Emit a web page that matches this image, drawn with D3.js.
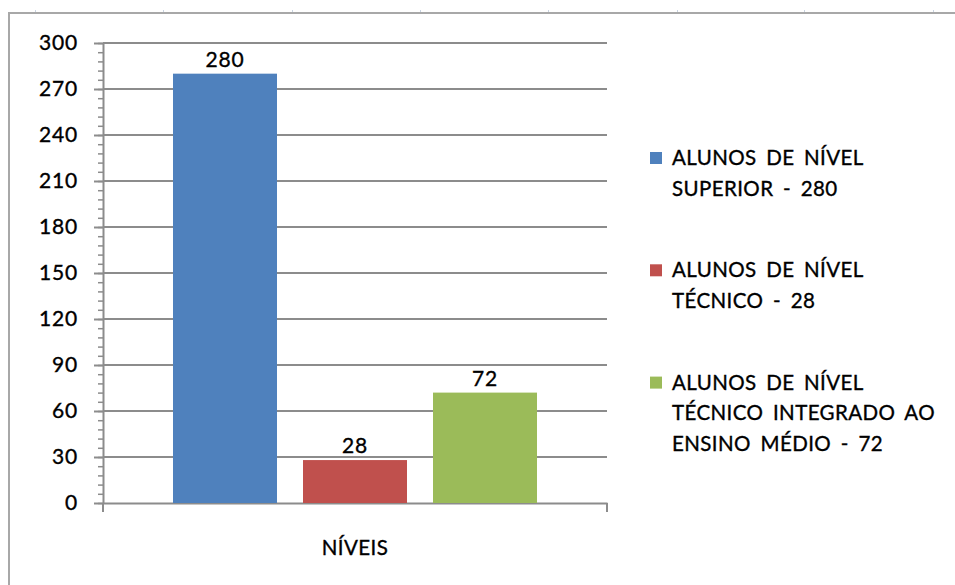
<!DOCTYPE html>
<meta charset="utf-8">

<body style="margin:0; background:white">
  <svg width="955" height="585"></svg>

  <script src="https://cdnjs.cloudflare.com/ajax/libs/d3/7.8.5/d3.min.js"></script>

  <script>

    // data
    var categories = ['NÍVEIS']
    var seriesLabels = [
      ['ALUNOS DE NÍVEL', 'SUPERIOR - 280'],
      ['ALUNOS DE NÍVEL', 'TÉCNICO - 28'],
      ['ALUNOS DE NÍVEL', 'TÉCNICO INTEGRADO AO', 'ENSINO MÉDIO - 72']
    ]
    var seriesValues = [280, 28, 72]
    var yTicks = [0, 30, 60, 90, 120, 150, 180, 210, 240, 270, 300]

    var colors = ['#4F81BD', '#C0504D', '#9BBB59']
    var font = 'Lato, "Open Sans", sans-serif'

    var svg = d3.select('svg')

    // outer frame of the chart object (only top and left edges are visible)
    svg.append('rect')
      .attr('x', 9).attr('y', 13)
      .attr('width', 1000).attr('height', 700)
      .attr('fill', 'none')
      .attr('stroke', '#a8a8a8')
      .attr('stroke-width', 2)

    // small marks left from the sheet grid above the frame
    svg.selectAll('.cellmark')
      .data([35, 163, 292, 420, 548, 677, 804, 933])
      .join('rect')
      .attr('x', d => d).attr('y', 10)
      .attr('width', 1).attr('height', 2)
      .attr('fill', '#c9d3e0')

    var plotLeft = 103, plotRight = 607, plotTop = 43, plotBottom = 503

    var y = d3.scaleLinear().domain([0, 300]).range([plotBottom, plotTop])

    var x0 = d3.scaleBand().domain(categories).range([plotLeft, plotRight])
      .paddingInner(0).paddingOuter(0.1923)
    var x1 = d3.scaleBand().domain(d3.range(seriesValues.length))
      .range([0, x0.bandwidth()]).paddingInner(0.2).paddingOuter(0)

    // text look: slightly heavier than plain Lato
    function textStyle(sel, size) {
      sel.style('font-family', font)
        .style('font-size', size + 'px')
        .attr('fill', '#000')
        .attr('stroke', '#000')
        .attr('stroke-width', 0.35)
    }

    // gridlines
    svg.append('g')
      .selectAll('line')
      .data(yTicks.filter(d => d > 0))
      .join('line')
      .attr('x1', plotLeft).attr('x2', plotRight)
      .attr('y1', d => y(d)).attr('y2', d => y(d))
      .attr('stroke', '#8c8c8c')
      .attr('stroke-width', 2)

    // minor ticks on y axis
    var minorAxis = svg.append('g')
      .attr('transform', 'translate(' + plotLeft + ',0)')
      .call(d3.axisLeft(y).tickValues(d3.range(0, 301, 6)).tickSize(5).tickFormat(''))
    minorAxis.select('.domain').remove()
    minorAxis.selectAll('line').attr('stroke', '#8c8c8c').attr('stroke-width', 1.5)

    // main y axis
    var yAxis = svg.append('g')
      .attr('transform', 'translate(' + plotLeft + ',0)')
      .call(d3.axisLeft(y).tickValues(yTicks).tickSize(9).tickSizeOuter(0).tickPadding(16))
    yAxis.select('.domain').attr('stroke', '#8c8c8c').attr('stroke-width', 2)
    yAxis.selectAll('line').attr('stroke', '#8c8c8c').attr('stroke-width', 2)
    yAxis.selectAll('text')
      .call(textStyle, 21)
      .style('letter-spacing', '0.8px')

    // x axis
    var xAxis = svg.append('g')
      .attr('transform', 'translate(0,' + plotBottom + ')')
      .call(d3.axisBottom(x0).tickSize(0).tickSizeOuter(0).tickPadding(37))
    xAxis.select('.domain').attr('stroke', '#8c8c8c').attr('stroke-width', 2)
    xAxis.selectAll('text')
      .call(textStyle, 20.5)
      .style('letter-spacing', '0.4px')

    // category boundary ticks
    xAxis.selectAll('.edge')
      .data(x0.range())
      .join('line')
      .attr('x1', d => d).attr('x2', d => d)
      .attr('y1', 0).attr('y2', 9)
      .attr('stroke', '#8c8c8c')
      .attr('stroke-width', 2)

    // bars
    var group = svg.append('g')
      .attr('transform', 'translate(' + x0(categories[0]) + ',0)')

    group.selectAll('rect')
      .data(seriesValues)
      .join('rect')
      .attr('x', (d, i) => x1(i))
      .attr('width', x1.bandwidth())
      .attr('y', d => y(d))
      .attr('height', d => y(0) - y(d))
      .attr('fill', (d, i) => colors[i])

    group.selectAll('text')
      .data(seriesValues)
      .join('text')
      .attr('x', (d, i) => x1(i) + x1.bandwidth() / 2)
      .attr('y', d => y(d) - 7)
      .attr('text-anchor', 'middle')
      .call(textStyle, 21)
      .style('letter-spacing', '0.8px')
      .text(d => d)

    // legend
    var legend = svg.append('g').attr('transform', 'translate(650,0)')
    var lineH = 30.7
    var itemY = [158, 270.3, 382.6]

    var items = legend.selectAll('g')
      .data(seriesLabels)
      .join('g')
      .attr('transform', (d, i) => 'translate(0,' + itemY[i] + ')')

    items.append('rect')
      .attr('x', 0).attr('y', -6)
      .attr('width', 12).attr('height', 12)
      .attr('fill', (d, i) => colors[i])

    items.selectAll('text')
      .data(d => d)
      .join('text')
      .attr('x', 22)
      .attr('y', (d, j) => j * lineH)
      .attr('dy', '0.35em')
      .call(textStyle, 20.5)
      .style('word-spacing', '4px')
      .style('letter-spacing', '0.4px')
      .text(d => d)

  </script>
</body>
